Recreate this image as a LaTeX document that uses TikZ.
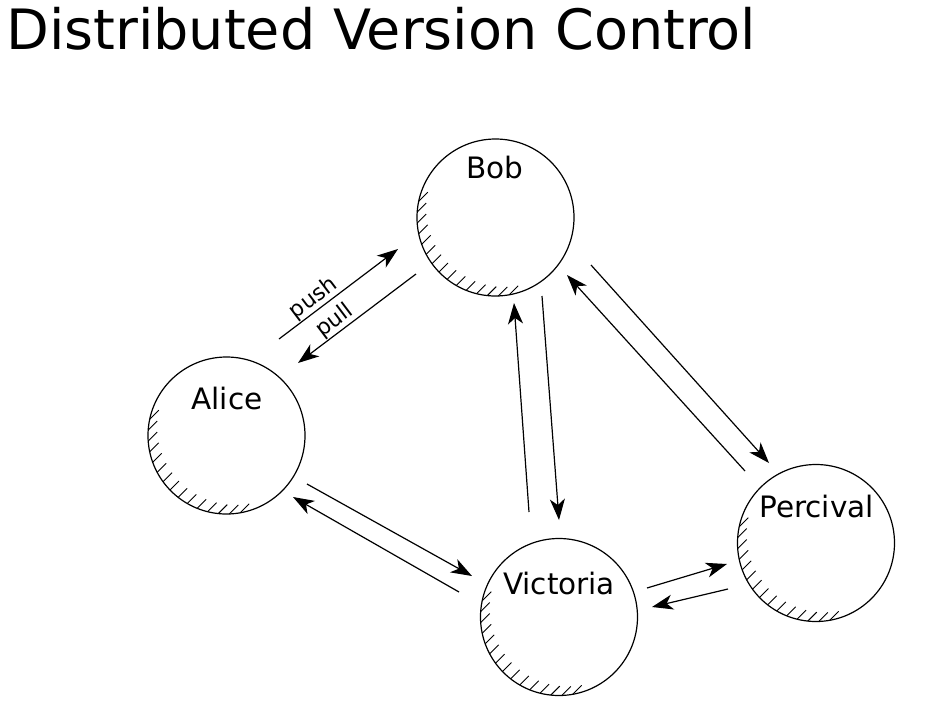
\documentclass[tikz,border=0pt]{standalone}
\usepackage{fontspec}
\setmainfont{DejaVu Sans}
\usetikzlibrary{arrows.meta}
\begin{document}
\begin{tikzpicture}[x=1pt,y=-1pt,
  station/.style={draw,circle,line width=1.2pt,minimum size=157pt,inner sep=0pt},
  lbl/.style={font=\fontsize{29.5}{32}\selectfont,anchor=base,inner sep=0pt},
  arr/.style={line width=1.2pt,-{Stealth[length=21pt,width=15pt,inset=6pt]}},
  rarr/.style={line width=1.2pt,{Stealth[length=21pt,width=15pt,inset=6pt]}-},
  tick/.style={line width=0.9pt},
  small/.style={font=\fontsize{22}{24}\selectfont,inner sep=0.5pt}]
\useasboundingbox (0,0) rectangle (938,724);
\node[anchor=base west,inner sep=0pt,font=\fontsize{55.6}{62}\selectfont] (title) at (6,49) {Distributed Version Control};
% stations
\node[station] (bob) at (495.5,217.5) {};
\node[station] (alice) at (226.5,435.5) {};
\node[station] (vic) at (559,617) {};
\node[station] (perc) at (816,543) {};
\node[lbl] (bobl) at (495,178) {Bob};
\node[lbl] (alicel) at (227,409) {Alice};
\node[lbl] (vicl) at (559,594) {Victoria};
\node[lbl] (percl) at (816.5,517) {Percival};
% hatching
\foreach \c in {bob,alice,vic,perc}{
  \foreach \a in {168,176,...,280}{
    \draw[tick] (\c.center) ++(-\a:78.5) -- ++(9,-9);
  }
}
% arrow end points
\coordinate (ab1) at (279,339);
\coordinate (ab2) at (398,249);
\coordinate (ba1) at (416,274);
\coordinate (ba2) at (298,363);
\coordinate (bv1) at (542,296);
\coordinate (bv2) at (559,520);
\coordinate (vb1) at (529,512);
\coordinate (vb2) at (514,303);
\coordinate (pb1) at (745,471);
\coordinate (pb2) at (567,275);
\coordinate (bp1) at (591,265);
\coordinate (bp2) at (769,463);
\coordinate (av1) at (307,484);
\coordinate (av2) at (472,576);
\coordinate (va1) at (459,592);
\coordinate (va2) at (293,497);
\coordinate (vp1) at (647,588);
\coordinate (vp2) at (727,564);
\coordinate (pv1) at (728,589);
\coordinate (pv2) at (652,607);
% arrows
\draw[arr] (ab1) -- (ab2) node[small,pos=0.35,sloped,above] (pushl) {push};
\draw[rarr] (ba2) -- (ba1) node[small,pos=0.37,sloped,above] (pulll) {pull};
\draw[arr] (bv1) -- (bv2);
\draw[arr] (vb1) -- (vb2);
\draw[arr] (pb1) -- (pb2);
\draw[arr] (bp1) -- (bp2);
\draw[arr] (av1) -- (av2);
\draw[arr] (va1) -- (va2);
\draw[arr] (vp1) -- (vp2);
\draw[arr] (pv1) -- (pv2);
\end{tikzpicture}
\end{document}
